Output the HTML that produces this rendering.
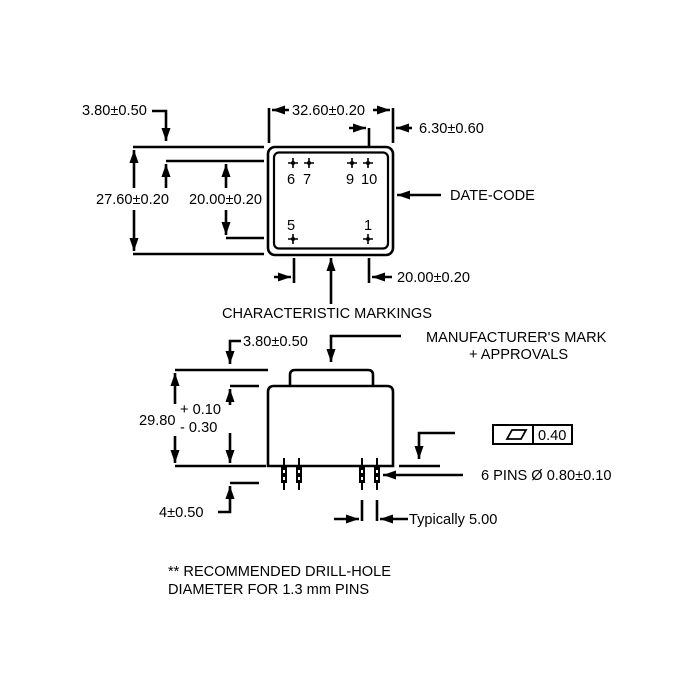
<!DOCTYPE html>
<html><head><meta charset="utf-8"><style>
html,body{margin:0;padding:0;background:#fff;}
svg{display:block;}
text{font-family:"Liberation Sans",Arial,sans-serif;font-size:14.6px;fill:#000;}
</style></head><body>
<svg width="700" height="700" viewBox="0 0 700 700" xmlns="http://www.w3.org/2000/svg">
<defs>
<marker id="a" viewBox="0 0 10 10" refX="10" refY="5" markerWidth="5" markerHeight="5" orient="auto-start-reverse"><path d="M0,1.5 L10,5 L0,8.5 z" fill="#000"/></marker>
</defs>
<g stroke="#000" stroke-width="2.6" fill="none">
<rect x="268" y="147" width="125" height="108" rx="7"/>
<rect x="274" y="152.5" width="114" height="96" rx="5" stroke-width="2.2"/>
<line x1="133" y1="147" x2="264" y2="147"/>
<line x1="166" y1="161" x2="264" y2="161"/>
<line x1="226" y1="238" x2="264" y2="238"/>
<line x1="133" y1="254" x2="264" y2="254"/>
<polyline points="152,111 166,111 166,141" marker-end="url(#a)"/>
<line x1="134" y1="188" x2="134" y2="150" marker-end="url(#a)"/>
<line x1="134" y1="210" x2="134" y2="251" marker-end="url(#a)"/>
<line x1="166" y1="188" x2="166" y2="164" marker-end="url(#a)"/>
<line x1="226" y1="188" x2="226" y2="164" marker-end="url(#a)"/>
<line x1="226" y1="210" x2="226" y2="235" marker-end="url(#a)"/>
<line x1="269" y1="108" x2="269" y2="143"/>
<line x1="393" y1="108" x2="393" y2="143"/>
<line x1="289" y1="110" x2="272" y2="110" marker-end="url(#a)"/>
<line x1="373" y1="110" x2="390" y2="110" marker-end="url(#a)"/>
<line x1="369" y1="128" x2="369" y2="146"/>
<line x1="349" y1="128" x2="366" y2="128" marker-end="url(#a)"/>
<line x1="412" y1="128" x2="396" y2="128" marker-end="url(#a)"/>
<line x1="441" y1="195" x2="397" y2="195" marker-end="url(#a)"/>
<line x1="294" y1="258" x2="294" y2="283"/>
<line x1="369" y1="258" x2="369" y2="283"/>
<line x1="274" y1="277" x2="291" y2="277" marker-end="url(#a)"/>
<line x1="392" y1="277" x2="372" y2="277" marker-end="url(#a)"/>
<line x1="331" y1="304" x2="331" y2="258" marker-end="url(#a)"/>
<path d="M290,386 L290,375 Q290,370 295,370 L368,370 Q373,370 373,375 L373,386"/>
<path d="M268,466 L268,392 Q268,386 274,386 L387,386 Q393,386 393,392 L393,466 Z"/>
<line x1="175" y1="370" x2="268" y2="370"/>
<line x1="230" y1="386" x2="259" y2="386"/>
<line x1="175" y1="466" x2="266" y2="466"/>
<line x1="399" y1="466" x2="440" y2="466"/>
<line x1="230" y1="483" x2="259" y2="483"/>
<polyline points="241,341 230,341 230,364" marker-end="url(#a)"/>
<polyline points="401,336 331,336 331,362" marker-end="url(#a)"/>
<line x1="175" y1="404" x2="175" y2="373" marker-end="url(#a)"/>
<line x1="175" y1="436" x2="175" y2="463" marker-end="url(#a)"/>
<line x1="230" y1="405" x2="230" y2="389" marker-end="url(#a)"/>
<line x1="230" y1="433" x2="230" y2="463" marker-end="url(#a)"/>
<polyline points="218,512 230,512 230,486" marker-end="url(#a)"/>
<polyline points="455,433 419,433 419,459" marker-end="url(#a)"/>
<line x1="463" y1="475" x2="383" y2="475" marker-end="url(#a)"/>
<line x1="362" y1="500" x2="362" y2="521"/>
<line x1="377" y1="500" x2="377" y2="521"/>
<line x1="334" y1="519" x2="359" y2="519" marker-end="url(#a)"/>
<line x1="408" y1="519" x2="380" y2="519" marker-end="url(#a)"/>
<rect x="493" y="425" width="79" height="19" stroke-width="2"/>
<line x1="533" y1="425" x2="533" y2="444" stroke-width="2"/>
<polygon points="507,439 512,430 526,430 521,439" stroke-width="1.8"/>
</g>
<g fill="#000" stroke="#000">
<g id="p"><line x1="284" y1="458" x2="284" y2="490" stroke-width="2"/><rect x="281" y="467" width="6" height="16" stroke="none"/><rect x="283" y="470" width="2" height="3" fill="#fff" stroke="none"/><rect x="283" y="477" width="2" height="3" fill="#fff" stroke="none"/></g>
<use href="#p" x="15"/><use href="#p" x="78"/><use href="#p" x="93"/>
</g>
<g stroke="#000" stroke-width="1.6">
<path d="M288,163h10M293,158v10M304,163h10M309,158v10M347,163h10M352,158v10M363,163h10M368,158v10M288,239h10M293,234v10M363,239h10M368,234v10"/>
</g>
<g fill="#000"><circle cx="293" cy="163" r="2"/><circle cx="309" cy="163" r="2"/><circle cx="352" cy="163" r="2"/><circle cx="368" cy="163" r="2"/><circle cx="293" cy="239" r="2"/><circle cx="368" cy="239" r="2"/></g>
<g style="font-size:16px">
<text x="287" y="184">6</text><text x="303" y="184">7</text><text x="346" y="184">9</text><text x="361" y="184">10</text>
<text x="287" y="230">5</text><text x="364" y="230">1</text>
</g>
<text x="82" y="115">3.80±0.50</text>
<text x="292" y="115">32.60±0.20</text>
<text x="419" y="133">6.30±0.60</text>
<text x="96" y="204">27.60±0.20</text>
<text x="189" y="204">20.00±0.20</text>
<text x="450" y="200">DATE-CODE</text>
<text x="397" y="282">20.00±0.20</text>
<text x="222" y="318">CHARACTERISTIC MARKINGS</text>
<text x="243" y="346">3.80±0.50</text>
<text x="426" y="342">MANUFACTURER'S MARK</text>
<text x="469" y="359">+ APPROVALS</text>
<text x="139" y="425">29.80</text>
<text x="180" y="414">+ 0.10</text>
<text x="180" y="432">- 0.30</text>
<text x="538" y="440">0.40</text>
<text x="481" y="480">6 PINS Ø 0.80±0.10</text>
<text x="159" y="517">4±0.50</text>
<text x="409" y="524">Typically 5.00</text>
<text x="168" y="576">** RECOMMENDED DRILL-HOLE</text>
<text x="168" y="594">DIAMETER FOR 1.3 mm PINS</text>
</svg>
</body></html>
